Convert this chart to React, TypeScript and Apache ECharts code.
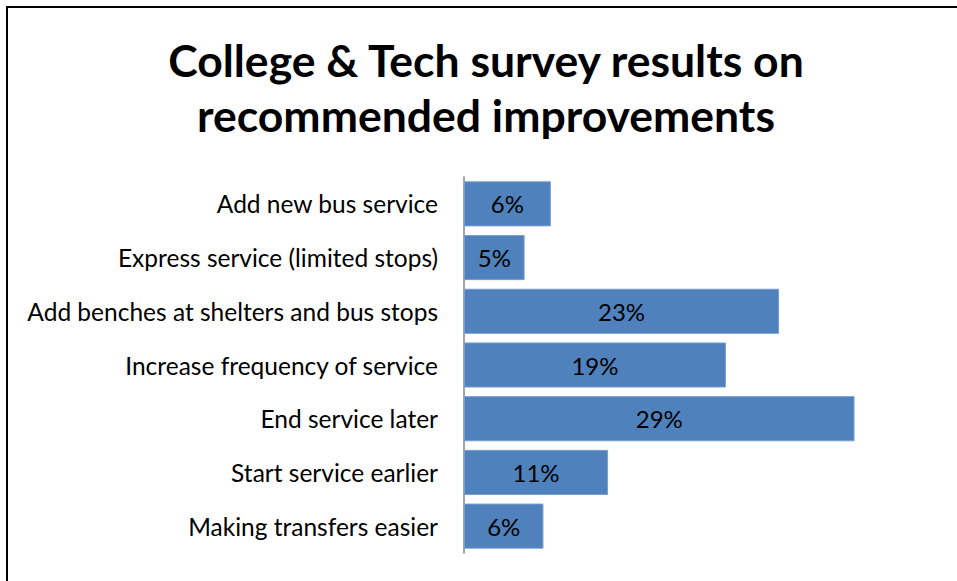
import React, { useEffect, useRef } from "react";
import * as echarts from "echarts";

const categories = [
  "Add new bus service",
  "Express service (limited stops)",
  "Add benches at shelters and bus stops",
  "Increase frequency of service",
  "End service later",
  "Start service earlier",
  "Making transfers easier",
];
const values = [6.45, 4.5, 23.4, 19.45, 29.0, 10.7, 5.9];
const titleLines = ["College & Tech survey results on", "recommended improvements"];

const FONT = "Lato, 'Open Sans', sans-serif";

export default function App() {
  const ref = useRef<HTMLDivElement>(null);
  useEffect(() => {
    if (!ref.current) return;
    const chart = echarts.init(ref.current, null, { renderer: "svg" });
    chart.setOption({
      animation: false,
      backgroundColor: "#ffffff",
      textStyle: { fontFamily: FONT },
      graphic: [
        { type: "line", shape: { x1: 7, y1: 7, x2: 957, y2: 7 }, style: { stroke: "#000", lineWidth: 2 } },
        { type: "line", shape: { x1: 7, y1: 6, x2: 7, y2: 581 }, style: { stroke: "#000", lineWidth: 2 } },
        {
          type: "text",
          x: 486,
          y: 59,
          style: {
            text: titleLines[0],
            align: "center",
            verticalAlign: "middle",
            fontFamily: FONT,
            fontWeight: "bold",
            fontSize: 44.5,
            fill: "#000",
          },
        },
        {
          type: "text",
          x: 486,
          y: 114,
          style: {
            text: titleLines[1],
            align: "center",
            verticalAlign: "middle",
            fontFamily: FONT,
            fontWeight: "bold",
            fontSize: 44.5,
            fill: "#000",
          },
        },
      ],
      grid: { left: 464, top: 177, height: 376, width: 404, containLabel: false },
      xAxis: {
        type: "value",
        min: 0,
        max: 30,
        show: false,
      },
      yAxis: {
        type: "category",
        data: categories,
        inverse: true,
        axisLine: { show: true, lineStyle: { color: "#868686", width: 1.5 } },
        axisTick: { show: false },
        axisLabel: { margin: 26, fontSize: 24.5, color: "#000", fontFamily: FONT },
      },
      series: [
        {
          type: "bar",
          data: values,
          barCategoryGap: "16%",
          itemStyle: { color: "#4F81BD", borderColor: "#7A9FCF", borderWidth: 1 },
          label: {
            show: true,
            position: "inside",
            color: "#000",
            fontSize: 24,
            fontFamily: FONT,
            formatter: (p: any) => Math.round(p.value) + "%",
          },
        },
      ],
    });
    return () => chart.dispose();
  }, []);
  return (
    <div
      ref={ref}
      style={{ position: "absolute", left: 0, top: 0, width: 957, height: 581 }}
    />
  );
}
